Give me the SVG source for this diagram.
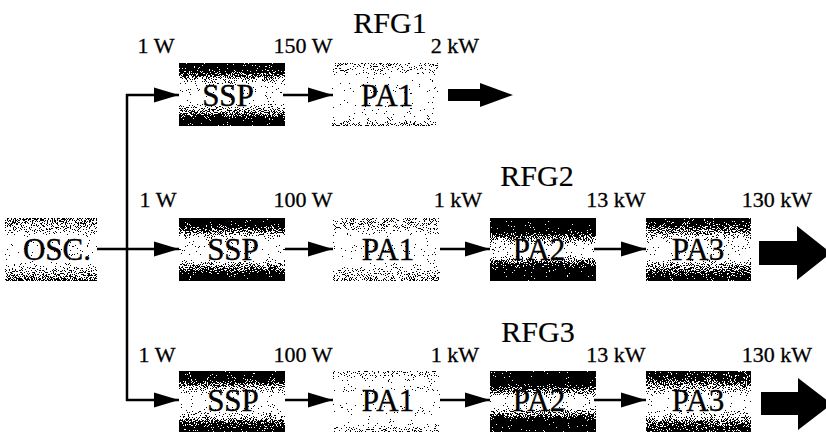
<svg xmlns="http://www.w3.org/2000/svg" width="826" height="432" viewBox="0 0 826 432">
<style>
  .lbl { font-family: "Liberation Serif", "Times New Roman", serif; font-size: 22px; fill: #000; stroke: #000; stroke-width: 0.3; text-anchor: middle; }
  .ttl { font-family: "Liberation Serif", "Times New Roman", serif; font-size: 30px; fill: #000; stroke: #000; stroke-width: 0.2; text-anchor: middle; }
  .box-t { font-family: "Liberation Serif", "Times New Roman", serif; font-size: 31px; fill: #000; stroke: #000; stroke-width: 0.4; text-anchor: middle; }
  .wire { stroke: #000; stroke-width: 2.5; fill: none; }
  .arr { stroke: #000; stroke-width: 2.5; fill: none; marker-end: url(#head); }
  .big { fill: #000; }
</style>
<defs>
  <marker id="head" markerUnits="userSpaceOnUse" markerWidth="26" markerHeight="16" refX="25" refY="8" orient="auto">
    <path d="M0,0.5 L25,8 L0,15.5 z" fill="#000"/>
  </marker>
  <filter id="dither" filterUnits="objectBoundingBox" x="0" y="0" width="1" height="1" color-interpolation-filters="sRGB">
    <feTurbulence type="fractalNoise" baseFrequency="0.95" numOctaves="2" seed="7" result="noise"/>
    <feColorMatrix in="noise" type="matrix" values="1 0 0 0 0  1 0 0 0 0  1 0 0 0 0  0 0 0 0 1" result="gn"/>
    <feComposite in="SourceGraphic" in2="gn" operator="arithmetic" k1="0" k2="1" k3="2.2" k4="-1.1" result="sum"/>
    <feComponentTransfer in="sum">
      <feFuncR type="discrete" tableValues="0 1"/>
      <feFuncG type="discrete" tableValues="0 1"/>
      <feFuncB type="discrete" tableValues="0 1"/>
      <feFuncA type="linear" slope="0" intercept="1"/>
    </feComponentTransfer>
  </filter>
  <linearGradient id="gSSP" x1="0" y1="0" x2="0" y2="1">
    <stop offset="0" stop-color="#000"/>
    <stop offset="0.1" stop-color="#111"/>
    <stop offset="0.34" stop-color="#e4e4e4"/>
    <stop offset="0.38" stop-color="#fff"/>
    <stop offset="0.63" stop-color="#fff"/>
    <stop offset="0.67" stop-color="#e4e4e4"/>
    <stop offset="0.9" stop-color="#111"/>
    <stop offset="1" stop-color="#000"/>
  </linearGradient>
  <linearGradient id="gPA1" x1="0" y1="0" x2="0" y2="1">
    <stop offset="0" stop-color="#999"/>
    <stop offset="0.22" stop-color="#e4e4e4"/>
    <stop offset="0.26" stop-color="#fff"/>
    <stop offset="0.76" stop-color="#fff"/>
    <stop offset="0.8" stop-color="#e4e4e4"/>
    <stop offset="1" stop-color="#888"/>
  </linearGradient>
  <linearGradient id="gPA1b" x1="0" y1="0" x2="0" y2="1">
    <stop offset="0" stop-color="#b0b0b0"/>
    <stop offset="0.16" stop-color="#e4e4e4"/>
    <stop offset="0.2" stop-color="#fff"/>
    <stop offset="0.84" stop-color="#fff"/>
    <stop offset="0.88" stop-color="#e4e4e4"/>
    <stop offset="1" stop-color="#999"/>
  </linearGradient>
  <linearGradient id="gPA2" x1="0" y1="0" x2="0" y2="1">
    <stop offset="0" stop-color="#000"/>
    <stop offset="0.2" stop-color="#000"/>
    <stop offset="0.42" stop-color="#e4e4e4"/>
    <stop offset="0.45" stop-color="#fff"/>
    <stop offset="0.56" stop-color="#fff"/>
    <stop offset="0.59" stop-color="#e4e4e4"/>
    <stop offset="0.8" stop-color="#000"/>
    <stop offset="1" stop-color="#000"/>
  </linearGradient>
  <linearGradient id="gPA3" x1="0" y1="0" x2="0" y2="1">
    <stop offset="0" stop-color="#1a1a1a"/>
    <stop offset="0.1" stop-color="#333"/>
    <stop offset="0.36" stop-color="#e4e4e4"/>
    <stop offset="0.4" stop-color="#fff"/>
    <stop offset="0.62" stop-color="#fff"/>
    <stop offset="0.66" stop-color="#e4e4e4"/>
    <stop offset="0.9" stop-color="#333"/>
    <stop offset="1" stop-color="#1a1a1a"/>
  </linearGradient>
  <linearGradient id="gOSC" x1="0" y1="0" x2="0" y2="1">
    <stop offset="0" stop-color="#777"/>
    <stop offset="0.26" stop-color="#e4e4e4"/>
    <stop offset="0.3" stop-color="#fff"/>
    <stop offset="0.7" stop-color="#fff"/>
    <stop offset="0.74" stop-color="#e4e4e4"/>
    <stop offset="1" stop-color="#666"/>
  </linearGradient>
</defs>

<rect width="826" height="432" fill="#fff"/>

<!-- titles and power labels -->
<g id="labels">
  <text class="ttl" x="390" y="33">RFG1</text>
  <text class="lbl" x="156" y="53">1 W</text>
  <text class="lbl" x="303" y="53">150 W</text>
  <text class="lbl" x="455" y="53">2 kW</text>

  <text class="ttl" x="537" y="186">RFG2</text>
  <text class="lbl" x="158" y="207">1 W</text>
  <text class="lbl" x="303" y="207">100 W</text>
  <text class="lbl" x="458" y="207">1 kW</text>
  <text class="lbl" x="616" y="207">13 kW</text>
  <text class="lbl" x="777" y="207">130 kW</text>

  <text class="ttl" x="538" y="342">RFG3</text>
  <text class="lbl" x="157" y="362">1 W</text>
  <text class="lbl" x="303" y="362">100 W</text>
  <text class="lbl" x="455" y="362">1 kW</text>
  <text class="lbl" x="616" y="362">13 kW</text>
  <text class="lbl" x="777" y="362">130 kW</text>
</g>

<!-- nodes -->
<g id="osc">
  <rect x="5" y="218" width="92" height="63" fill="url(#gOSC)" filter="url(#dither)"/>
  <text class="box-t" x="57" y="260">OSC.</text>
</g>

<g id="rfg1-ssp">
  <rect x="179" y="63" width="106" height="63" fill="url(#gSSP)" filter="url(#dither)"/>
  <text class="box-t" x="228" y="106">SSP</text>
</g>
<g id="rfg1-pa1">
  <rect x="332" y="63" width="106" height="63" fill="url(#gPA1b)" filter="url(#dither)"/>
  <text class="box-t" x="387" y="106">PA1</text>
</g>

<g id="rfg2-ssp">
  <rect x="179" y="218" width="106" height="63" fill="url(#gSSP)" filter="url(#dither)"/>
  <text class="box-t" x="233" y="260">SSP</text>
</g>
<g id="rfg2-pa1">
  <rect x="333" y="218" width="107" height="63" fill="url(#gPA1)" filter="url(#dither)"/>
  <text class="box-t" x="388" y="260">PA1</text>
</g>
<g id="rfg2-pa2">
  <rect x="490" y="218" width="106" height="63" fill="url(#gPA2)" filter="url(#dither)"/>
  <text class="box-t" x="539" y="260">PA2</text>
</g>
<g id="rfg2-pa3">
  <rect x="646" y="218" width="105" height="63" fill="url(#gPA3)" filter="url(#dither)"/>
  <text class="box-t" x="698" y="260">PA3</text>
</g>

<g id="rfg3-ssp">
  <rect x="179" y="371" width="106" height="63" fill="url(#gSSP)" filter="url(#dither)"/>
  <text class="box-t" x="233" y="411">SSP</text>
</g>
<g id="rfg3-pa1">
  <rect x="333" y="371" width="107" height="63" fill="url(#gPA1b)" filter="url(#dither)"/>
  <text class="box-t" x="388" y="411">PA1</text>
</g>
<g id="rfg3-pa2">
  <rect x="490" y="371" width="106" height="63" fill="url(#gPA2)" filter="url(#dither)"/>
  <text class="box-t" x="539" y="411">PA2</text>
</g>
<g id="rfg3-pa3">
  <rect x="646" y="371" width="105" height="63" fill="url(#gPA3)" filter="url(#dither)"/>
  <text class="box-t" x="698" y="411">PA3</text>
</g>

<!-- connectors -->
<g id="connectors">
  <line class="wire" x1="127" y1="94" x2="127" y2="401"/>
  <line class="arr" x1="126" y1="95" x2="179" y2="95"/>
  <line class="arr" x1="97" y1="249" x2="179" y2="249"/>
  <line class="arr" x1="126" y1="400" x2="179" y2="400"/>

  <line class="arr" x1="283" y1="95" x2="333" y2="95"/>
  <polygon class="big" points="448,89 480,89 480,83 513,95 480,107 480,101 448,101"/>

  <line class="arr" x1="285" y1="249" x2="333" y2="249"/>
  <line class="arr" x1="440" y1="249" x2="490" y2="249"/>
  <line class="arr" x1="594" y1="249" x2="646" y2="249"/>
  <polygon class="big" points="759,241 797,241 797,226 831,253 797,280 797,265 759,265"/>

  <line class="arr" x1="285" y1="400" x2="333" y2="400"/>
  <line class="arr" x1="440" y1="400" x2="490" y2="400"/>
  <line class="arr" x1="594" y1="400" x2="646" y2="400"/>
  <polygon class="big" points="761,392 798,392 798,378 832,404 798,430 798,415 761,415"/>
</g>
</svg>
